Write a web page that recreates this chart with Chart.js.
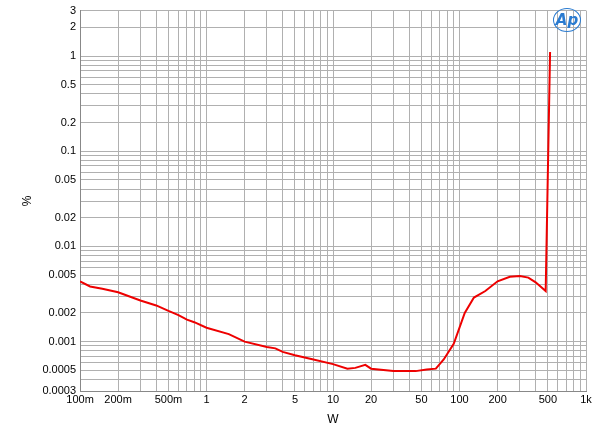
<!DOCTYPE html>
<html><head><script src="https://cdn.jsdelivr.net/npm/chart.js@4"></script>
<style>body{margin:0;background:#fff}#w{position:relative;width:600px;height:431px}
#logo{position:absolute;left:553px;top:8px;width:26px;height:22px;border:1.5px solid #2a7bd0;border-radius:50%;color:#2a7bd0;font:italic bold 15px "DejaVu Sans";text-align:center;line-height:22px}</style></head>
<body><div id="w"><canvas id="c" width="600" height="431"></canvas><div id="logo">Ap</div></div>
<script>
const xs=[0.1,0.12,0.15,0.2,0.3,0.4,0.5,0.6,0.7,0.8,1,1.5,2,3,3.5,4,5,7,10,13,15,18,20,30,45,55,65,75,90,110,130,160,200,250,300,350,400,480,520];
const ys=[0.0043,0.0038,0.0036,0.0033,0.0027,0.0024,0.0021,0.0019,0.0017,0.0016,0.0014,0.0012,0.001,0.00088,0.00085,0.00078,0.00072,0.00065,0.00058,0.00052,0.00053,0.00057,0.00052,0.00049,0.00049,0.00051,0.00052,0.00065,0.00095,0.002,0.0029,0.0034,0.0043,0.0048,0.0049,0.0047,0.0042,0.0034,1.1];
const xLabels={0.1:'100m',0.2:'200m',0.5:'500m',1:'1',2:'2',5:'5',10:'10',20:'20',50:'50',100:'100',200:'200',500:'500',1000:'1k'};
const yLabels=[3,2,1,0.5,0.2,0.1,0.05,0.02,0.01,0.005,0.002,0.001,0.0005,0.0003];
function logTicks(a,b){const t=[];for(let e=-5;e<=4;e++)for(let m=1;m<10;m++){const v=+(m*Math.pow(10,e)).toPrecision(3);if(v>=a*0.999&&v<=b*1.001)t.push({value:v});}return t;}
const lab=v=>{for(const k in xLabels)if(Math.abs(k-v)/v<1e-6)return xLabels[k];return '';};
const ylab=v=>{for(const k of yLabels)if(Math.abs(k-v)/v<1e-6)return String(k);return '';};
Chart.defaults.font.family='Liberation Sans';Chart.defaults.color='#000';
new Chart(document.getElementById('c'),{type:'line',
data:{datasets:[{data:xs.map((x,i)=>({x,y:ys[i]})),borderColor:'#ee0000',borderWidth:2,pointRadius:0,tension:0}]},
options:{responsive:false,animation:false,plugins:{legend:{display:false},tooltip:{enabled:false}},
layout:{padding:{top:3,right:14,left:16}},
scales:{x:{type:'logarithmic',min:0.1,max:1000,afterBuildTicks:s=>{s.ticks=logTicks(0.1,1000);},
ticks:{autoSkip:false,maxRotation:0,callback:v=>lab(v),font:{size:11},padding:2},
grid:{color:'#b0b0b0',drawTicks:false},border:{color:'#888'},title:{display:true,text:'W',font:{size:12},padding:{top:4}}},
y:{type:'logarithmic',min:0.0003,max:3,afterBuildTicks:s=>{s.ticks=logTicks(0.0003,3);},
ticks:{autoSkip:false,callback:v=>ylab(v),font:{size:11},padding:4},
grid:{color:'#b0b0b0',drawTicks:false},border:{color:'#888'},title:{display:true,text:'%',font:{size:12}}}}}});
</script></body></html>
